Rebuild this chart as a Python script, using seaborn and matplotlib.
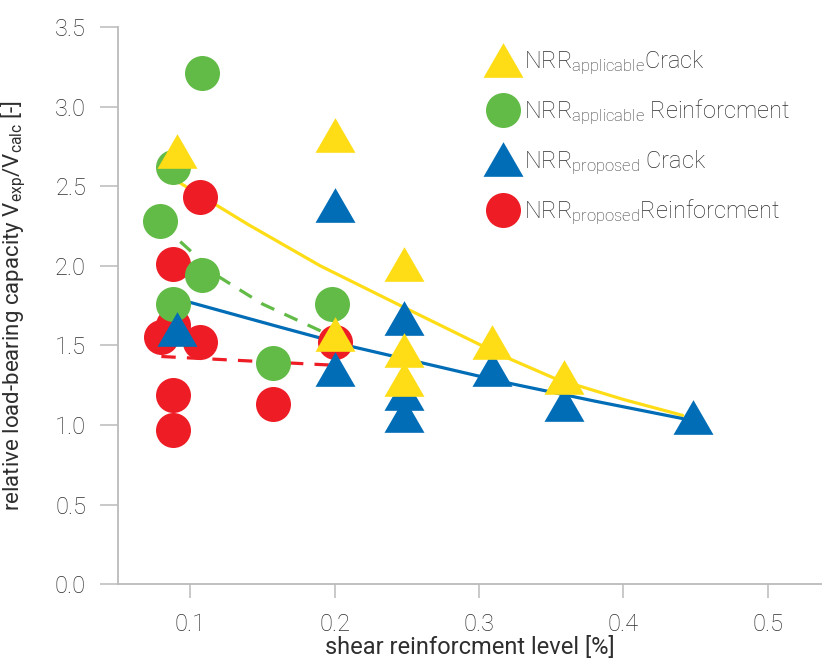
import matplotlib
matplotlib.use("Agg")
import matplotlib.pyplot as plt
import seaborn as sns
from matplotlib.lines import Line2D

# measured points
app_crack_x = [0.091, 0.200, 0.200, 0.248, 0.248, 0.248, 0.309, 0.359]
app_crack_y = [2.72, 2.82, 1.57, 2.01, 1.47, 1.29, 1.52, 1.30]

app_reinf_x = [0.108, 0.088, 0.079, 0.108, 0.088, 0.198, 0.157]
app_reinf_y = [3.21, 2.62, 2.28, 1.94, 1.76, 1.76, 1.39]

prop_crack_x = [0.091, 0.200, 0.200, 0.248, 0.248, 0.248, 0.309, 0.359, 0.448]
prop_crack_y = [1.60, 2.38, 1.35, 1.67, 1.20, 1.06, 1.35, 1.13, 1.05]

prop_reinf_x = [0.107, 0.088, 0.080, 0.088, 0.107, 0.088, 0.088, 0.157, 0.200]
prop_reinf_y = [2.43, 2.01, 1.55, 1.63, 1.52, 1.19, 0.97, 1.13, 1.52]

# trend lines
app_crack_line_x = [0.093, 0.14, 0.19, 0.25, 0.315, 0.353, 0.40, 0.441]
app_crack_line_y = [2.52, 2.26, 2.00, 1.73, 1.44, 1.29, 1.16, 1.06]

prop_crack_line_x = [0.10, 0.16, 0.213, 0.27, 0.322, 0.38, 0.441]
prop_crack_line_y = [1.77, 1.62, 1.49, 1.37, 1.26, 1.15, 1.04]

app_reinf_line_x = [0.08, 0.12, 0.15, 0.20]
app_reinf_line_y = [2.26, 1.93, 1.76, 1.55]

prop_reinf_line_x = [0.08, 0.20]
prop_reinf_line_y = [1.43, 1.375]

YELLOW = "#FEDD17"
GREEN = "#62BB46"
BLUE = "#006DB6"
RED = "#EE1C25"
TEXT = "#2e2e2e"
GREY = "#BBBBBB"

sns.set_theme(style="white")
plt.rcParams["font.family"] = ["Roboto", "DejaVu Sans"]
plt.rcParams["font.weight"] = "light"
plt.rcParams["mathtext.default"] = "regular"

# equilateral triangle, centred at mid height
TRI = [(-1, -0.866), (1, -0.866), (0, 0.866)]
S_CIRCLE = 635
S_TRI = 829

fig = plt.figure(figsize=(8.22, 6.6), dpi=100)
ax = fig.add_axes([0.1436, 0.115, 0.8564, 0.844])

lw = 2.3
dash = (4.5, 3.5)
sns.lineplot(x=app_crack_line_x, y=app_crack_line_y, ax=ax, color=YELLOW, lw=lw, sort=False, zorder=1)
sns.lineplot(x=prop_crack_line_x, y=prop_crack_line_y, ax=ax, color=BLUE, lw=lw, sort=False, zorder=1)
ax.plot(app_reinf_line_x, app_reinf_line_y, color=GREEN, lw=lw, dashes=dash, zorder=1)
ax.plot(prop_reinf_line_x, prop_reinf_line_y, color=RED, lw=lw, dashes=dash, zorder=1)

# drawing order: red, green, blue, yellow
sns.scatterplot(x=prop_reinf_x, y=prop_reinf_y, ax=ax, color=RED, marker="o", s=S_CIRCLE, linewidth=0, zorder=2)
sns.scatterplot(x=app_reinf_x, y=app_reinf_y, ax=ax, color=GREEN, marker="o", s=S_CIRCLE, linewidth=0, zorder=3)
sns.scatterplot(x=prop_crack_x, y=prop_crack_y, ax=ax, color=BLUE, marker=TRI, s=S_TRI, linewidth=0, zorder=4)
sns.scatterplot(x=app_crack_x, y=app_crack_y, ax=ax, color=YELLOW, marker=TRI, s=S_TRI, linewidth=0, zorder=5)

ax.set_xlim(0.05, 0.5375)
ax.set_ylim(0, 3.5)
ax.set_xticks([0.1, 0.2, 0.3, 0.4, 0.5])
ax.set_yticks([0.0, 0.5, 1.0, 1.5, 2.0, 2.5, 3.0, 3.5])
ax.set_xticklabels(["0.1", "0.2", "0.3", "0.4", "0.5"])
ax.set_yticklabels([f"{v:.1f}" for v in ax.get_yticks()])

for side in ["top", "right"]:
    ax.spines[side].set_visible(False)
for side in ["left", "bottom"]:
    ax.spines[side].set_color(GREY)
    ax.spines[side].set_linewidth(1.3)

ax.tick_params(axis="x", direction="out", length=10, width=1.1, color=GREY,
               labelsize=17, labelcolor=TEXT, pad=11, bottom=True)
ax.tick_params(axis="y", direction="out", length=13, width=1.1, color=GREY,
               labelsize=17, labelcolor=TEXT, pad=10, left=True)

ax.set_xlabel("shear reinforcment level [%]", fontsize=17, color=TEXT, labelpad=0)
ax.set_ylabel("relative load-bearing capacity V$_{exp}$/V$_{calc}$ [-]", fontsize=16,
              color=TEXT)
ax.yaxis.set_label_coords(-0.128, 0.5)

handles = [
    Line2D([], [], ls="", marker=TRI, ms=28.8, color=YELLOW, mew=0),
    Line2D([], [], ls="", marker="o", ms=25.2, color=GREEN, mew=0),
    Line2D([], [], ls="", marker=TRI, ms=28.8, color=BLUE, mew=0),
    Line2D([], [], ls="", marker="o", ms=25.2, color=RED, mew=0),
]
labels = [
    "NRR$_{applicable}$Crack",
    "NRR$_{applicable}$ Reinforcment",
    "NRR$_{proposed}$ Crack",
    "NRR$_{proposed}$Reinforcment",
]
leg = ax.legend(handles, labels, loc="upper left", bbox_to_anchor=(0.578, 0.944),
                bbox_transform=fig.transFigure, frameon=False, fontsize=17,
                labelspacing=0.88, handletextpad=0.15, borderpad=0, handlelength=1.4)
for t in leg.get_texts():
    t.set_color(TEXT)

fig.savefig("out.png", dpi=100)
